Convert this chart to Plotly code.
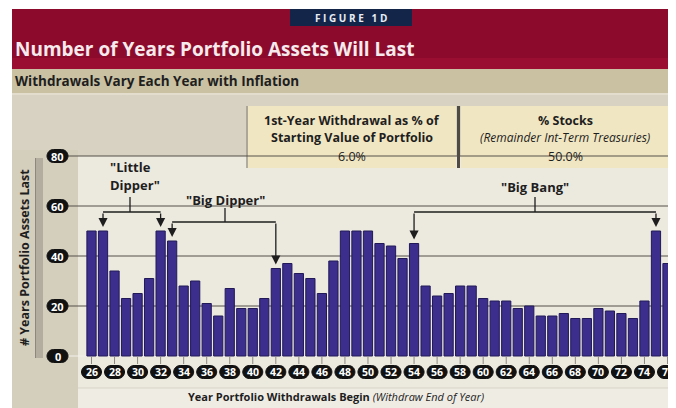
import plotly.graph_objects as go

# ---------------- data ----------------
years = list(range(1926, 1977))
years_lasting = [50, 50, 34, 23, 25, 31, 50, 46, 28, 30, 21, 16, 27, 19, 19, 23, 35, 37, 33, 31, 25, 38,
                 50, 50, 50, 45, 44, 39, 45, 28, 24, 25, 28, 28, 23, 22, 22, 19, 20, 16, 16, 17, 15, 15,
                 19, 18, 17, 15, 22, 50, 37]
x_tick_years = list(range(1926, 1977, 2))
x_tick_labels = ["26", "28", "30", "32", "34", "36", "38", "40", "42", "44", "46", "48", "50",
                 "52", "54", "56", "58", "60", "62", "64", "66", "68", "70", "72", "74", "76"]
y_tick_values = [0, 20, 40, 60, 80]
y_tick_labels = ["0", "20", "40", "60", "80"]
callouts = [
    # (label lines, first year, second year)
    (['"Little', 'Dipper"'], 1927, 1932),
    (['"Big Dipper"'], 1933, 1942),
    (['"Big Bang"'], 1954, 1975),
]

# ---------------- geometry helpers (page pixels) ----------------
PAGE_W, PAGE_H = 676, 408
OX, OY = 8, 8                      # default page margin of the html body
FW, FH = PAGE_W - OX, PAGE_H - OY  # figure size
PX_PER_YEAR = 11.52
X_FIRST_PX = 91.5                  # page pixel centre of first bar
PX_PER_UNIT = 2.5
Y_ZERO_PX = 356.0
X0 = years[0] - (X_FIRST_PX - OX) / PX_PER_YEAR
X1 = X0 + FW / PX_PER_YEAR
Y1 = (Y_ZERO_PX - OY) / PX_PER_UNIT
Y0 = Y1 - FH / PX_PER_UNIT


def dx(p):  # page pixel x -> data x
    return years[0] + (p - X_FIRST_PX) / PX_PER_YEAR


def dy(p):  # page pixel y -> data y
    return (Y_ZERO_PX - p) / PX_PER_UNIT


def fx(p):
    return (p - OX) / FW


def fy(p):
    return 1 - (p - OY) / FH


FONT = "Open Sans"
INK = "#1e1e1e"
shapes = []
ann = []


def rect(x0, y0, x1, y1, color):
    shapes.append(dict(type="rect", xref="paper", yref="paper", x0=fx(x0), x1=fx(x1),
                       y0=fy(y1), y1=fy(y0), fillcolor=color, layer="below", line=dict(width=0)))


def vline(x, y0, y1, color, width):
    shapes.append(dict(type="line", xref="paper", yref="paper", x0=fx(x), x1=fx(x),
                       y0=fy(y0), y1=fy(y1), line=dict(color=color, width=width), layer="below"))


def text(x, y, s, size, color=INK, xanchor="center", bold=True, italic=False):
    if bold:
        s = "<b>" + s + "</b>"
    if italic:
        s = "<i>" + s + "</i>"
    ann.append(dict(xref="paper", yref="paper", x=fx(x), y=fy(y), text=s, showarrow=False,
                    xanchor=xanchor, yanchor="middle", font=dict(family=FONT, size=size, color=color)))


def pill_path(w, h):
    r = h / 2.0
    k = 0.5523 * r
    a = w / 2.0 - r
    return (f"M {-a},{-r} L {a},{-r} C {a + k},{-r} {a + r},{-k} {a + r},0 "
            f"C {a + r},{k} {a + k},{r} {a},{r} L {-a},{r} "
            f"C {-a - k},{r} {-a - r},{k} {-a - r},0 C {-a - r},{-k} {-a - k},{-r} {-a},{-r} Z")


# ---------------- backgrounds ----------------
rect(12, 9, PAGE_W, 58, "#8c0b2c")
rect(12, 58, PAGE_W, 69, "#9a0f31")
rect(12, 69, PAGE_W, 93, "#c9c1a2")
rect(12, 93, PAGE_W, 95, "#e3ddcd")
rect(12, 95, PAGE_W, PAGE_H, "#d8d2c2")
rect(12, 150, 78, PAGE_H, "#d4cebd")
rect(78, 156, PAGE_W, 388, "#ece9df")
rect(78, 388, PAGE_W, PAGE_H, "#efece4")
shapes.append(dict(type="line", xref="paper", yref="paper", x0=fx(78), x1=fx(PAGE_W), y0=fy(388), y1=fy(388),
                   line=dict(color="#d8d3c6", width=1), layer="below"))
# grey bevel strip beside the y title
rect(35, 158, 43, 358, "#b3ada0")
vline(35.5, 158, 358, "#8d887c", 1)

# FIGURE box
rect(290, 9, 412, 26, "#13264a")
text(351, 17.5, "F I G U R E   1 D", 10, color="#e8ecf4")
# title / subtitle
text(13, 49, "Number of Years Portfolio Assets Will Last", 19, color="#f6eaec", xanchor="left")
text(13, 81, "Withdrawals Vary Each Year with Inflation", 13.5, xanchor="left")

# y title
ann.append(dict(xref="paper", yref="paper", x=fx(24), y=fy(258), text="<b># Years Portfolio Assets Last</b>",
                textangle=-90, showarrow=False, xanchor="center", yanchor="middle",
                font=dict(family=FONT, size=12.5, color=INK)))
# x title
ann.append(dict(xref="paper", yref="paper", x=fx(336), y=fy(396),
                text="<b>Year Portfolio Withdrawals Begin</b> <i>(Withdraw End of Year)</i>",
                showarrow=False, xanchor="center", yanchor="middle",
                font=dict(family=FONT, size=11, color=INK)))

# ---------------- grid, ticks, pill labels ----------------
for v in y_tick_values[1:]:
    shapes.append(dict(type="line", xref="x", yref="y", x0=dx(66), x1=X1, y0=v, y1=v,
                       line=dict(color="#545049", width=1), layer="below"))
shapes.append(dict(type="line", xref="x", yref="y", x0=dx(66), x1=X1, y0=0, y1=0,
                   line=dict(color="#f4f1ea", width=1), layer="below"))

# info boxes (drawn after the grid so they hide the top grid line)
rect(248, 106, 456, 168, "#f1e6c2")
rect(461, 106, 670, 168, "#f1e6c2")
vline(247, 106, 168, "#9c978a", 1.5)
vline(458.5, 106, 168, "#4f4b44", 3)
vline(671.5, 106, 168, "#4f4b44", 3)
text(352, 120, "1st-Year Withdrawal as % of", 12.5)
text(352, 138, "Starting Value of Portfolio", 12.5)
text(352, 156, "6.0%", 12.5, bold=False)
text(565, 120, "% Stocks", 12.5)
text(565, 138, "(Remainder Int-Term Treasuries)", 12, bold=False, italic=True)
text(565, 156, "50.0%", 12.5, bold=False)

for v, lab in zip(y_tick_values, y_tick_labels):
    shapes.append(dict(type="path", xref="x", yref="y", xsizemode="pixel", ysizemode="pixel",
                       xanchor=dx(57.5), yanchor=v, path=pill_path(21, 13),
                       fillcolor="#111111", line=dict(color="#111111", width=1)))
    ann.append(dict(xref="x", yref="y", x=dx(57.5), y=v, text="<b>" + lab + "</b>", showarrow=False,
                    xanchor="center", yanchor="middle", font=dict(family=FONT, size=11, color="#ffffff")))

y_pill = dy(372)
for yr, lab in zip(x_tick_years, x_tick_labels):
    shapes.append(dict(type="line", xref="x", yref="y", x0=yr, x1=yr, y0=dy(357), y1=dy(364),
                       line=dict(color="#8c8880", width=1), layer="below"))
    shapes.append(dict(type="path", xref="x", yref="y", xsizemode="pixel", ysizemode="pixel",
                       xanchor=yr, yanchor=y_pill, path=pill_path(20, 13),
                       fillcolor="#111111", line=dict(color="#111111", width=1)))
    ann.append(dict(xref="x", yref="y", x=yr, y=y_pill, text="<b>" + lab + "</b>", showarrow=False,
                    xanchor="center", yanchor="middle", font=dict(family=FONT, size=10.5, color="#ffffff")))

# ---------------- callout brackets ----------------
value_of = dict(zip(years, years_lasting))
bracket_px = [212, 222, 212]
stem_top_px = [197, 208, 197]
label_px = [(130, [167, 185]), (225, [200]), (535, [187])]
for (lines, ya, yb), bpx, spx, (lx, lys) in zip(callouts, bracket_px, stem_top_px, label_px):
    by = dy(bpx)
    shapes.append(dict(type="line", xref="x", yref="y", x0=ya, x1=yb, y0=by, y1=by,
                       line=dict(color=INK, width=1.3)))
    mid = dx(lx)
    shapes.append(dict(type="line", xref="x", yref="y", x0=mid, x1=mid, y0=dy(spx), y1=by,
                       line=dict(color=INK, width=1.3)))
    for yr in (ya, yb):
        ann.append(dict(xref="x", yref="y", axref="x", ayref="y", x=yr, y=value_of[yr] + 1.6,
                        ax=yr, ay=by, text="", showarrow=True, arrowhead=2, arrowsize=1.4,
                        arrowwidth=1.3, arrowcolor=INK, standoff=0))
    for ln, lyp in zip(lines, lys):
        ann.append(dict(xref="x", yref="y", x=mid if len(lines) == 1 else dx(108), y=dy(lyp),
                        text="<b>" + ln + "</b>", showarrow=False,
                        xanchor="center" if len(lines) == 1 else "left", yanchor="middle",
                        font=dict(family=FONT, size=13, color=INK)))

# ---------------- bars ----------------
fig = go.Figure(go.Bar(x=years, y=years_lasting, width=0.8,
                       marker=dict(color="#3b2e8c", line=dict(color="#221a58", width=1))))

fig.update_layout(
    width=FW, height=FH, margin=dict(l=0, r=0, t=0, b=0),
    paper_bgcolor="#ffffff", plot_bgcolor="rgba(0,0,0,0)",
    showlegend=False, shapes=shapes, annotations=ann,
    xaxis=dict(range=[X0, X1], visible=False, domain=[0, 1], fixedrange=True),
    yaxis=dict(range=[Y0, Y1], visible=False, domain=[0, 1], fixedrange=True),
)
fig.write_html("out.html", config=dict(displayModeBar=False))
